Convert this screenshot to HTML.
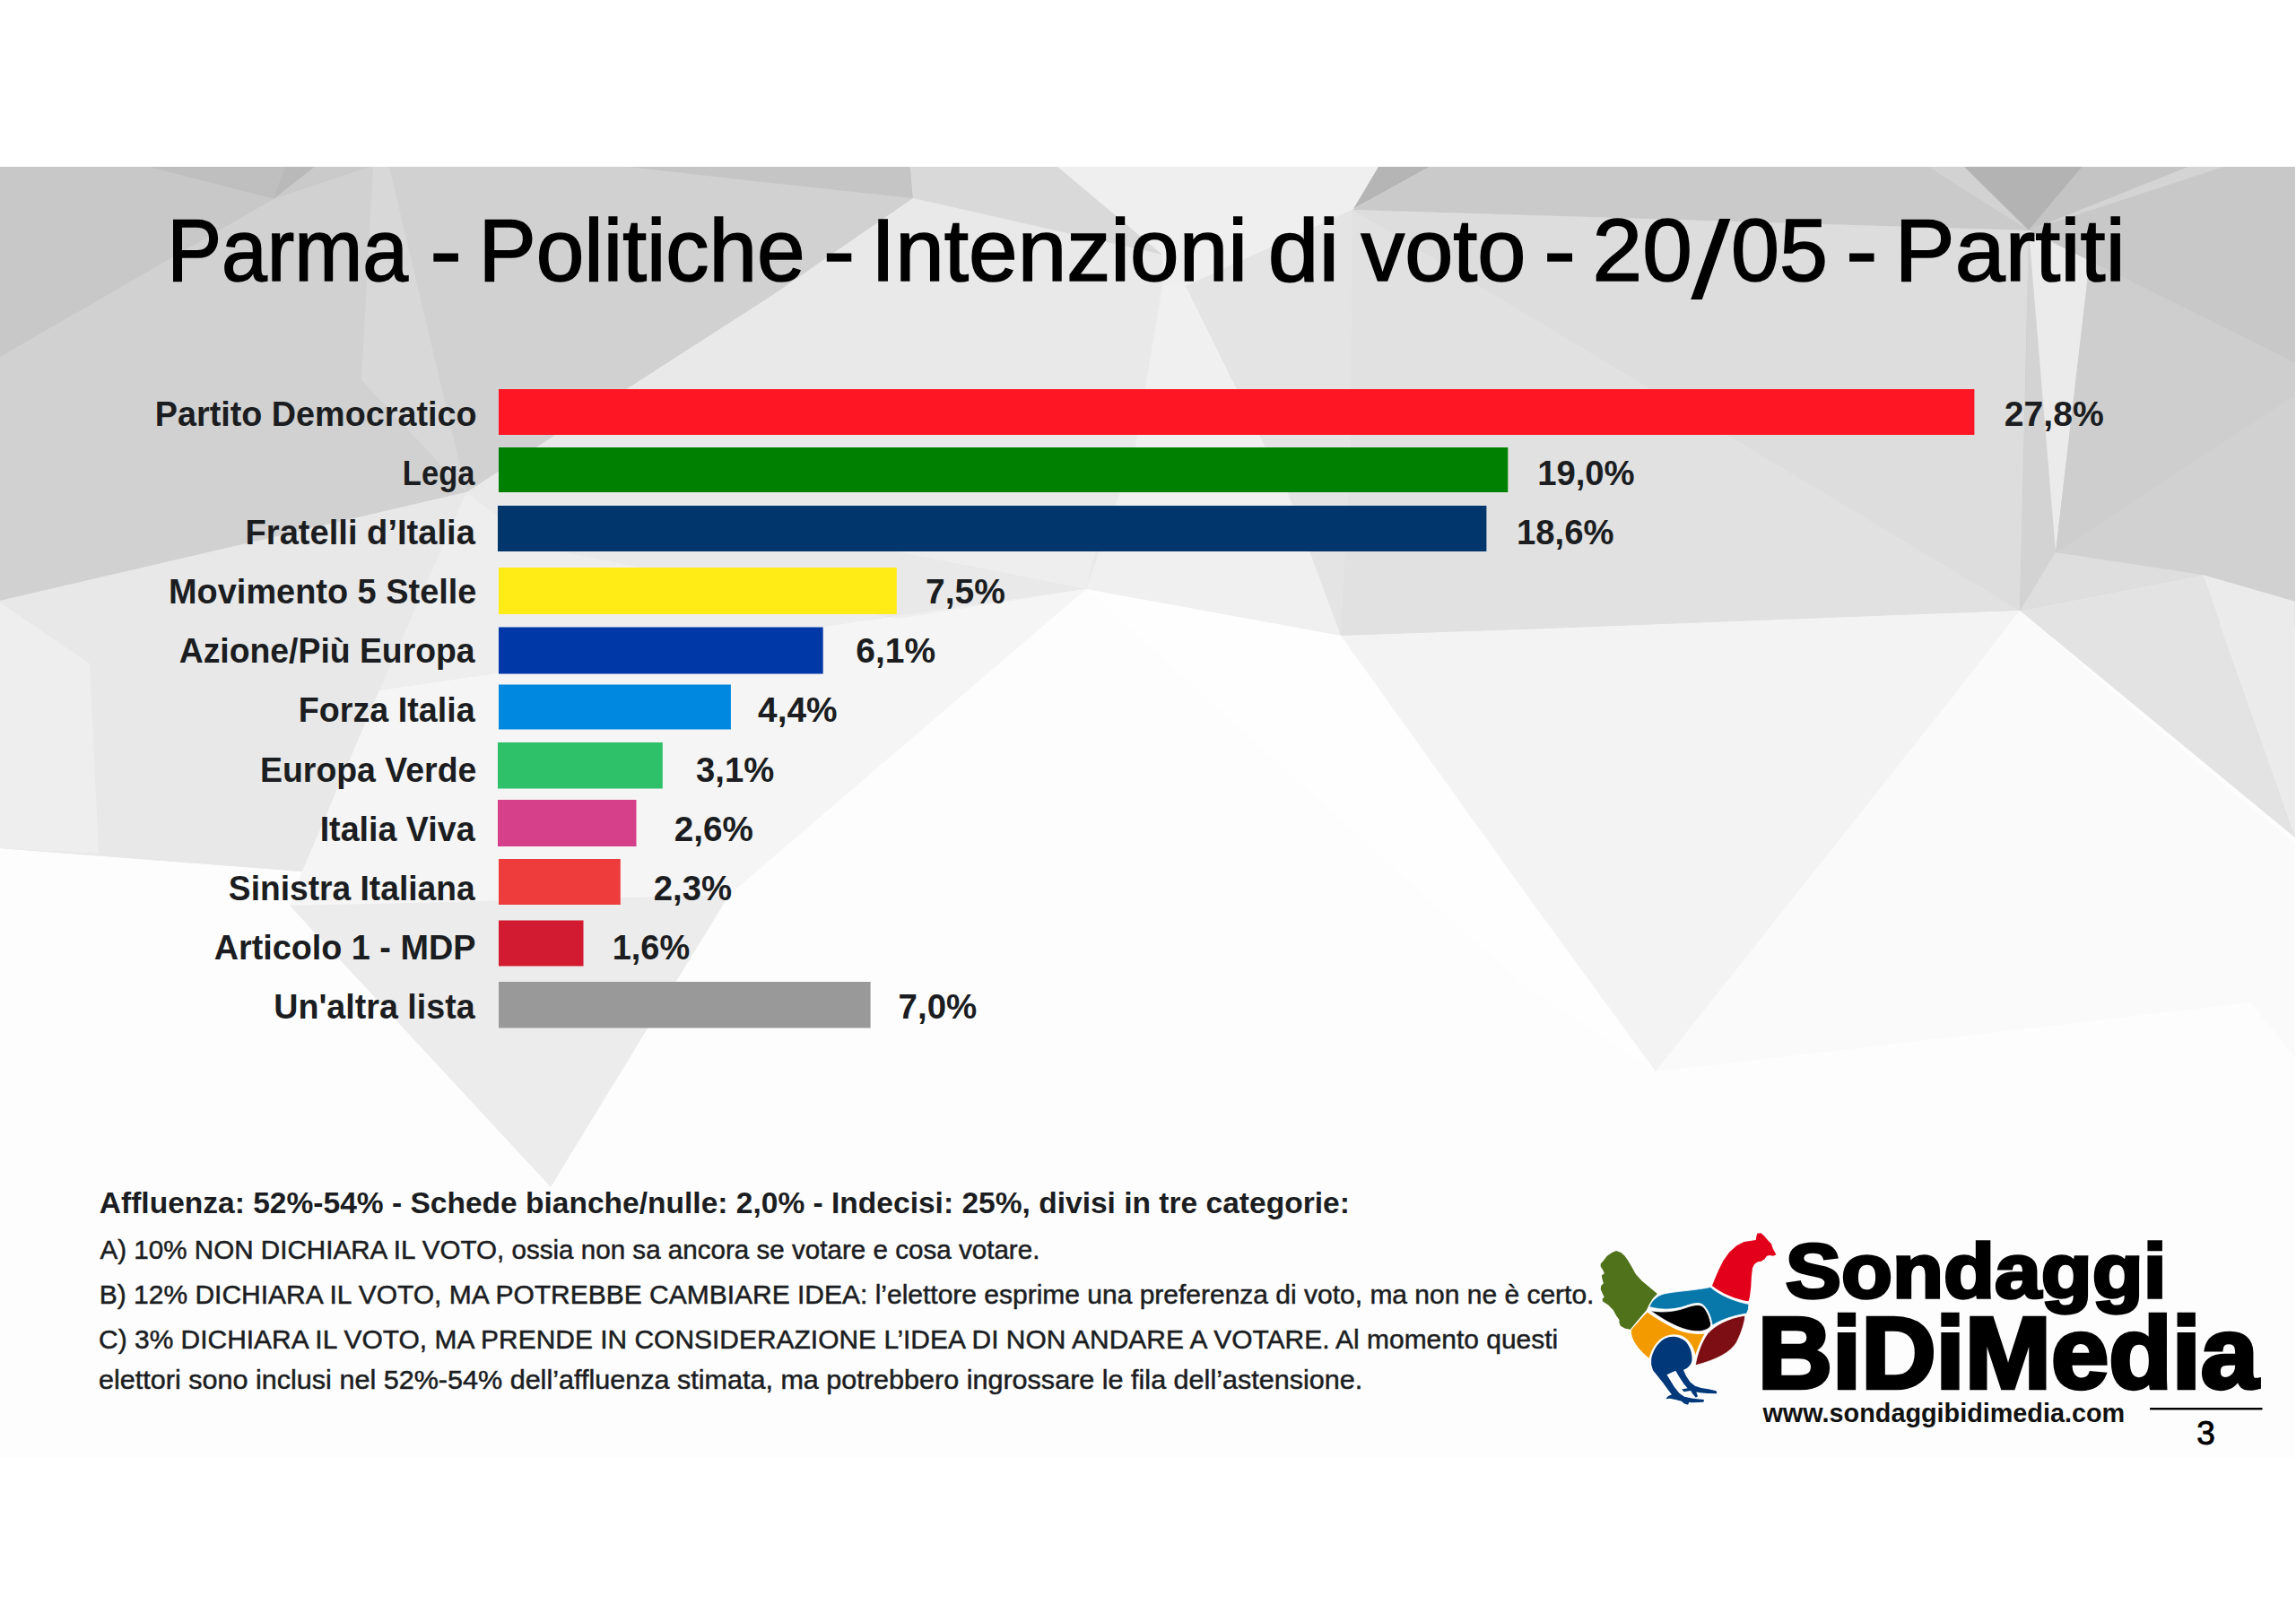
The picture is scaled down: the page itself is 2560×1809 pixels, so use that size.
<!DOCTYPE html>
<html lang="it"><head><meta charset="utf-8"><title>Parma - Politiche - Intenzioni di voto - 20/05 - Partiti</title>
<style>
html,body{margin:0;padding:0;background:#fff;}
body{width:2560px;height:1809px;overflow:hidden;}
svg{display:block;}
text{font-family:"Liberation Sans",sans-serif;white-space:pre;}
.title{font-size:98px;fill:#000;stroke:#000;stroke-width:1.6px;}
.lab{font-size:39px;font-weight:700;fill:#1b1d21;}
.fb{font-size:33px;font-weight:700;fill:#1b1d21;}
.fr{font-size:30.3px;fill:#1b1d21;stroke:#1b1d21;stroke-width:0.5px;}
.lg1{font-size:86px;font-weight:700;fill:#000;stroke:#000;stroke-width:3.4px;stroke-linejoin:miter;stroke-miterlimit:3;}
.lg2{font-size:113.5px;font-weight:700;fill:#000;stroke:#000;stroke-width:4.4px;stroke-linejoin:miter;stroke-miterlimit:3;}
.www{font-size:29.5px;font-weight:700;fill:#111;}
.pg{font-size:37px;fill:#000;stroke:#000;stroke-width:0.9px;}
</style></head>
<body>
<svg width="2560" height="1809" viewBox="0 0 2560 1809">
<defs><clipPath id="slide"><rect x="0" y="185.5" width="2558.8" height="1439.5"/></clipPath></defs>
<rect x="0" y="0" width="2560" height="1809" fill="#ffffff"/>
<g clip-path="url(#slide)">
<polygon points="0,180 2560,180 2560,1630 0,1630" fill="#fdfdfd"/>
<polygon points="0,186 2560,186 2560,700 2252,681 1700,702 1495,709 1211,657 423,770 337,972 0,946" fill="#e9e9e9"/>
<polygon points="1322,319 1508,234 1506,500 1495,709 1436,550" fill="#e4e4e4"/>
<polygon points="1508,234 2262,257 2252,681 1700,702 1495,709 1506,500" fill="#dddddd"/>
<polygon points="1508,234 2252,681 1700,702 1495,709 1506,500" fill="#e1e1e1"/>
<polygon points="1296,319 1322,319 1436,550 1495,709 1211,657 1265,503" fill="#f0f0f0"/>
<polygon points="999,615 1221,615 1211,657" fill="#eeeeee"/>
<polygon points="1179,186 1537,186 1509,233 1322,319 1296,319 1296,284" fill="#efefef"/>
<polygon points="0,186 1015,186 1018,221 860,330 520,549 0,670" fill="#d1d1d1"/>
<polygon points="0,186 166,186 305,222 0,398" fill="#c8c8c8"/>
<polygon points="166,186 351,186 305,222" fill="#bfbfbf"/>
<polygon points="318,186 351,186 305,222" fill="#b9b9b9"/>
<polygon points="351,186 412,186 305,222" fill="#cacaca"/>
<polygon points="416,186 434,186 520,549 403,424" fill="#d8d8d8"/>
<polygon points="700,186 1015,186 1018,221 850,203" fill="#c5c5c5"/>
<polygon points="1015,186 1179,186 1296,284 1018,221" fill="#d9d9d9"/>
<polygon points="0,670 520,549 423,770 337,972 0,946" fill="#e8e8e8"/>
<polygon points="0,672 0,946 110,952 100,740" fill="#eeeeee"/>
<polygon points="1537,186 1594,186 1509,233" fill="#b5b5b5"/>
<polygon points="1594,186 2190,186 2262,257 1508,234" fill="#cacaca"/>
<polygon points="2150,186 2190,186 2262,257" fill="#d2d2d2"/>
<polygon points="2190,186 2322,186 2262,257" fill="#b3b3b3"/>
<polygon points="2262,257 2322,186 2560,186 2560,700 2252,681" fill="#cacaca"/>
<polygon points="2322,186 2440,186 2262,257" fill="#c4c4c4"/>
<polygon points="2440,186 2480,186 2262,257" fill="#d4d4d4"/>
<polygon points="2262,257 2560,405 2560,186 2480,186" fill="#c8c8c8"/>
<polygon points="2262,257 2282,440 2292,616 2252,681 2258,440" fill="#d3d3d3"/>
<polygon points="2262,257 2330,291 2292,616" fill="#ebebeb"/>
<polygon points="2330,291 2560,405 2560,440 2292,616" fill="#cecece"/>
<polygon points="2292,616 2560,440 2560,671 2456,641" fill="#d1d1d1"/>
<polygon points="2252,681 2292,616 2456,641" fill="#dedede"/>
<polygon points="2252,681 2456,641 2560,935" fill="#e3e3e3"/>
<polygon points="2456,641 2560,671 2560,935" fill="#ebebeb"/>
<polygon points="423,770 1211,657 813,998 323,1010 337,972" fill="#f5f5f5"/>
<polygon points="520,549 600,610 1000,690 1211,657 560,750 423,770" fill="#eeeeee"/>
<polygon points="1211,657 1495,709 1700,995 1846,1195 1700,1100" fill="#fefefe"/>
<polygon points="1495,709 1700,702 2252,681 2183,770 1846,1195 1700,995" fill="#f3f3f3"/>
<polygon points="2252,681 2354,770 2183,770" fill="#fafafa"/>
<polygon points="2183,770 2354,770 2560,942 2560,1180 2509,1118 1846,1195" fill="#fafafa"/>
<polygon points="323,1010 813,998 614,1324" fill="#ececec"/>
</g>
<text class="title"><tspan x="186.25" y="312.8" textLength="268.79" lengthAdjust="spacingAndGlyphs">Parma</tspan> <tspan x="479.58" y="312.8" textLength="35.25" lengthAdjust="spacingAndGlyphs">-</tspan> <tspan x="533.54" y="312.8" textLength="364.11" lengthAdjust="spacingAndGlyphs">Politiche</tspan> <tspan x="918.00" y="312.8" textLength="35.12" lengthAdjust="spacingAndGlyphs">-</tspan> <tspan x="970.99" y="312.8" textLength="420.09" lengthAdjust="spacingAndGlyphs">Intenzioni</tspan> <tspan x="1413.74" y="312.8" textLength="79.37" lengthAdjust="spacingAndGlyphs">di</tspan> <tspan x="1517.60" y="312.8" textLength="183.78" lengthAdjust="spacingAndGlyphs">voto</tspan> <tspan x="1721.23" y="312.8" textLength="35.64" lengthAdjust="spacingAndGlyphs">-</tspan> <tspan x="1775.62" y="312.8" textLength="111.26" lengthAdjust="spacingAndGlyphs">20</tspan><tspan x="1885.20" y="332.8" font-size="122.7" stroke="none" textLength="44.12" lengthAdjust="spacingAndGlyphs">/</tspan><tspan x="1930.03" y="312.8" textLength="107.94" lengthAdjust="spacingAndGlyphs">05</tspan> <tspan x="2058.20" y="312.8" textLength="35.12" lengthAdjust="spacingAndGlyphs">-</tspan> <tspan x="2112.48" y="312.8" textLength="257.45" lengthAdjust="spacingAndGlyphs">Partiti</tspan></text>
<rect x="556" y="434" width="1645.4" height="51" fill="#ff1624"/>
<rect x="556" y="499" width="1125.3" height="50" fill="#008000"/>
<rect x="555" y="564" width="1102.4" height="51" fill="#00366c"/>
<rect x="556" y="633" width="443.8" height="52" fill="#ffec16"/>
<rect x="556" y="699.5" width="361.7" height="52" fill="#0038a8"/>
<rect x="556" y="763.5" width="258.9" height="50" fill="#0087e0"/>
<rect x="555" y="828" width="183.8" height="51.5" fill="#2ec16a"/>
<rect x="555" y="892" width="154.5" height="52" fill="#d6408b"/>
<rect x="556" y="958" width="135.8" height="51" fill="#ee3c3d"/>
<rect x="556" y="1026.5" width="94.5" height="51" fill="#d21a30"/>
<rect x="556" y="1095" width="414.6" height="51.5" fill="#999999"/>
<text class="lab" x="172.86" y="474.9" textLength="358.63" lengthAdjust="spacingAndGlyphs">Partito Democratico</text>
<text class="lab" x="2234.80" y="474.9" textLength="110.88" lengthAdjust="spacingAndGlyphs">27,8%</text>
<text class="lab" x="448.83" y="541.0" textLength="80.60" lengthAdjust="spacingAndGlyphs">Lega</text>
<text class="lab" x="1714.14" y="541.0" textLength="108.53" lengthAdjust="spacingAndGlyphs">19,0%</text>
<text class="lab" x="273.54" y="607.1" textLength="256.35" lengthAdjust="spacingAndGlyphs">Fratelli d’Italia</text>
<text class="lab" x="1691.04" y="607.1" textLength="108.53" lengthAdjust="spacingAndGlyphs">18,6%</text>
<text class="lab" x="188.06" y="673.2" textLength="343.31" lengthAdjust="spacingAndGlyphs">Movimento 5 Stelle</text>
<text class="lab" x="1032.10" y="673.2" textLength="88.78" lengthAdjust="spacingAndGlyphs">7,5%</text>
<text class="lab" x="199.70" y="739.3" textLength="329.90" lengthAdjust="spacingAndGlyphs">Azione/Più Europa</text>
<text class="lab" x="954.30" y="739.3" textLength="88.78" lengthAdjust="spacingAndGlyphs">6,1%</text>
<text class="lab" x="332.77" y="805.4" textLength="196.83" lengthAdjust="spacingAndGlyphs">Forza Italia</text>
<text class="lab" x="845.10" y="805.4" textLength="88.47" lengthAdjust="spacingAndGlyphs">4,4%</text>
<text class="lab" x="289.98" y="871.5" textLength="241.38" lengthAdjust="spacingAndGlyphs">Europa Verde</text>
<text class="lab" x="776.10" y="871.5" textLength="87.16" lengthAdjust="spacingAndGlyphs">3,1%</text>
<text class="lab" x="356.67" y="937.6" textLength="172.93" lengthAdjust="spacingAndGlyphs">Italia Viva</text>
<text class="lab" x="751.81" y="937.6" textLength="88.16" lengthAdjust="spacingAndGlyphs">2,6%</text>
<text class="lab" x="254.85" y="1003.7" textLength="274.76" lengthAdjust="spacingAndGlyphs">Sinistra Italiana</text>
<text class="lab" x="728.72" y="1003.7" textLength="87.25" lengthAdjust="spacingAndGlyphs">2,3%</text>
<text class="lab" x="238.70" y="1069.8" textLength="291.68" lengthAdjust="spacingAndGlyphs">Articolo 1 - MDP</text>
<text class="lab" x="682.65" y="1069.8" textLength="86.51" lengthAdjust="spacingAndGlyphs">1,6%</text>
<text class="lab" x="305.27" y="1135.9" textLength="224.33" lengthAdjust="spacingAndGlyphs">Un&#x27;altra lista</text>
<text class="lab" x="1001.61" y="1135.9" textLength="87.65" lengthAdjust="spacingAndGlyphs">7,0%</text>
<text class="fb" x="110.80" y="1353.2" textLength="1394.04" lengthAdjust="spacingAndGlyphs">Affluenza: 52%-54% - Schede bianche/nulle: 2,0% - Indecisi: 25%, divisi in tre categorie:</text>
<text class="fr" x="111.55" y="1403.8" textLength="1047.86" lengthAdjust="spacingAndGlyphs">A) 10% NON DICHIARA IL VOTO, ossia non sa ancora se votare e cosa votare.</text>
<text class="fr" x="110.78" y="1453.8" textLength="1666.66" lengthAdjust="spacingAndGlyphs">B) 12% DICHIARA IL VOTO, MA POTREBBE CAMBIARE IDEA: l’elettore esprime una preferenza di voto, ma non ne è certo.</text>
<text class="fr" x="110.07" y="1503.5" textLength="1627.08" lengthAdjust="spacingAndGlyphs">C) 3% DICHIARA IL VOTO, MA PRENDE IN CONSIDERAZIONE L’IDEA DI NON ANDARE A VOTARE. Al momento questi</text>
<text class="fr" x="110.04" y="1549.3" textLength="1409.25" lengthAdjust="spacingAndGlyphs">elettori sono inclusi nel 52%-54% dell’affluenza stimata, ma potrebbero ingrossare le fila dell’astensione.</text>
<text class="lg1" x="1990.73" y="1447.2" textLength="424.96" lengthAdjust="spacingAndGlyphs">Sondaggi</text>
<text class="lg2" x="1959.68" y="1547.8" textLength="558.43" lengthAdjust="spacingAndGlyphs">BiDiMedia</text>
<text class="www" x="1965.48" y="1586.3" textLength="403.72" lengthAdjust="spacingAndGlyphs">www.sondaggibidimedia.com</text>
<svg x="1760" y="1360" width="240" height="220" viewBox="0 0 1769 1622" overflow="visible">
<g stroke="#ffffff" stroke-width="6" stroke-linejoin="round">
<path fill="#50721a" stroke="none" d="M310,258 L350,272 L380,300 L405,335 L440,395 L470,450 L520,505 L580,555 L648,612 L610,650 L580,700 L560,745 L500,815 L425,905 L380,895 L345,875 L335,850 L335,825 L310,790 L285,745 L245,705 L200,675 L195,655 L212,640 L200,615 L182,575 L185,545 L205,525 L195,490 L190,460 L212,445 L200,415 L182,388 L182,365 L205,340 L235,300 L275,272 Z"/>
<path fill="#e2001a" stroke="none" d="M1470,115 L1500,113 L1525,135 L1555,170 L1585,200 L1597,240 L1625,290 L1600,300 L1572,295 L1548,300 L1528,328 L1500,345 L1470,350 L1445,368 L1430,400 L1422,470 L1417,560 L1407,640 L1397,672 C1300,660 1180,610 1098,545 L1120,490 L1150,420 L1190,340 L1240,270 L1300,215 L1360,185 L1420,175 L1458,170 L1462,140 Z"/>
<path fill="#0878ab" d="M582,720 C600,670 640,630 700,612 C800,590 950,585 1085,557 C1170,630 1290,675 1400,697 L1396,740 L1382,775 C1280,790 1180,820 1100,872 C1090,800 1060,730 1020,700 C990,680 940,690 880,712 C800,740 700,750 582,720 Z"/>
<path fill="#f39a00" d="M567,762 C620,800 700,850 800,900 C880,935 960,945 1040,937 C1010,990 980,1060 960,1125 C950,1060 910,985 850,960 C790,940 720,950 670,990 C625,1030 595,1090 582,1145 C520,1100 470,1040 445,985 C430,950 430,920 432,907 L500,830 L545,780 Z"/>
<path fill="#7d0f14" d="M1370,790 C1365,850 1340,930 1300,1010 C1250,1090 1150,1150 960,1200 C975,1110 1010,1010 1060,940 C1120,870 1230,810 1370,790 Z"/>
<path fill="#000000" d="M592,750 C700,770 800,755 880,727 C940,705 990,695 1020,715 C1055,745 1080,810 1088,860 C1088,890 1060,908 1000,920 C900,925 800,880 700,822 C650,790 615,768 592,750 Z"/>
<path fill="#00387a" stroke="none" d="M598,1150 C608,1085 646,1018 704,982 C762,952 826,960 874,998 C917,1041 937,1102 932,1160 C927,1198 900,1222 862,1238 L885,1288 L918,1338 L958,1370 L1008,1386 L1068,1396 L1132,1410 L1138,1432 L1060,1430 L1000,1424 L968,1420 L980,1455 L964,1466 L938,1434 L922,1408 L866,1418 L850,1398 L896,1388 L866,1352 L826,1292 L798,1244 L756,1262 L726,1278 L788,1378 L828,1428 L870,1458 L940,1472 L1032,1482 L1028,1502 L940,1506 L908,1504 L900,1524 L870,1516 L846,1494 L798,1482 L750,1472 L716,1476 L738,1452 L766,1440 L736,1400 L692,1340 L652,1290 L612,1240 L598,1195 Z"/>
</g>
</svg>

<rect x="2397.1" y="1570" width="125.4" height="2.4" fill="#000"/>
<text class="pg" x="2459.5" y="1611.2" text-anchor="middle">3</text>
</svg>
</body></html>
